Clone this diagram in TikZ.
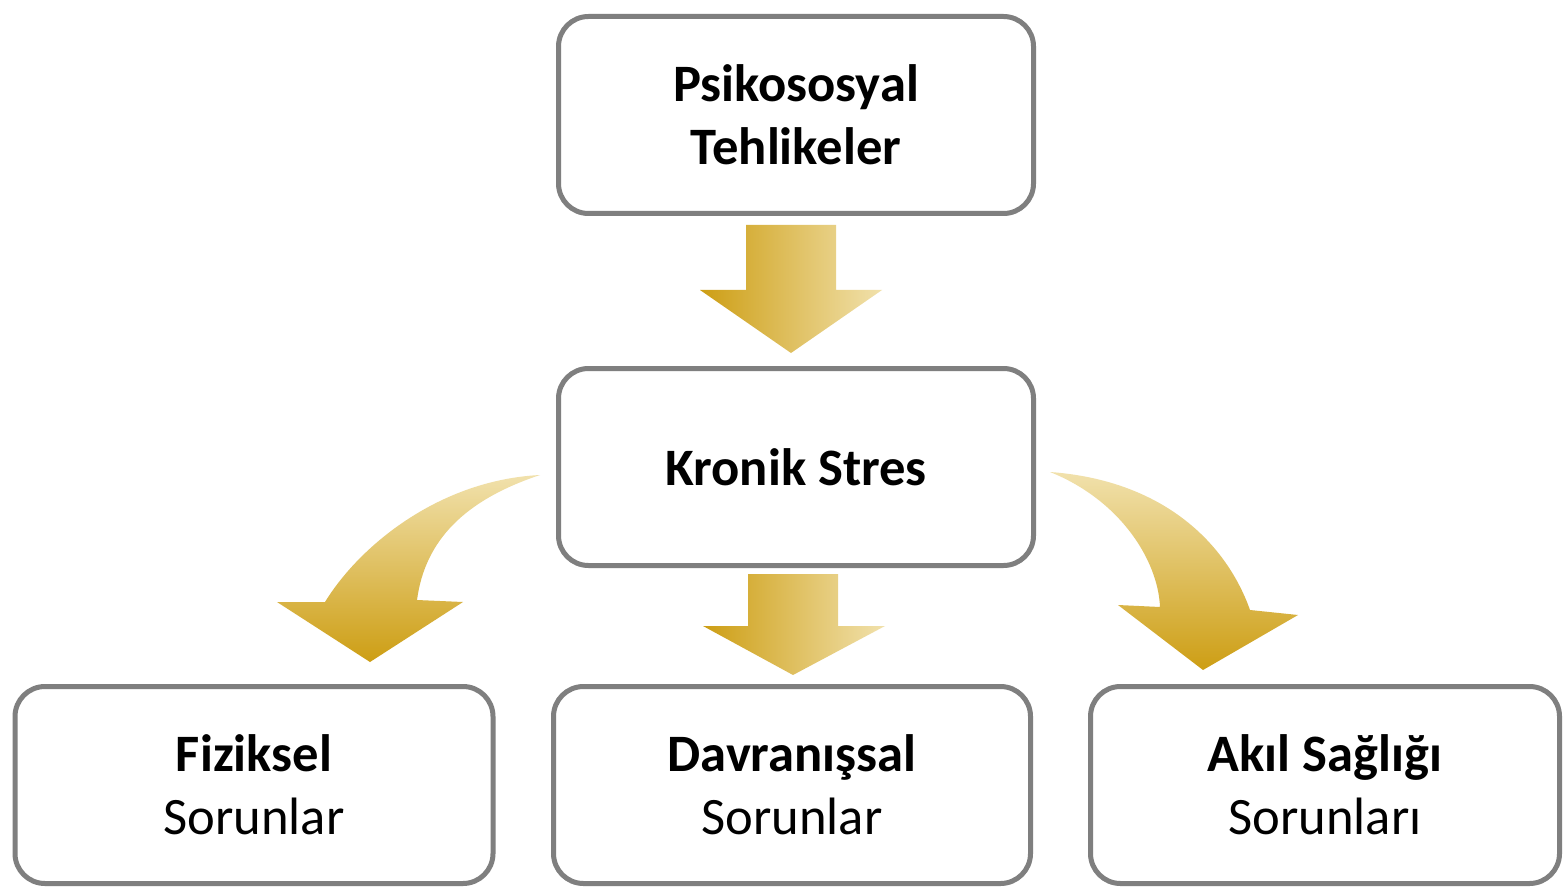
\documentclass[tikz,border=0pt]{standalone}
\usepackage{fontspec}
\setmainfont{Carlito}
\definecolor{boxgray}{RGB}{127,127,127}
\definecolor{golddark}{RGB}{205,158,20}
\definecolor{goldlight}{RGB}{241,225,172}
\begin{document}
\begin{tikzpicture}[x=0.5pt,y=-0.5pt,
  box/.style={draw=boxgray, line width=2.5pt, rounded corners=15pt, fill=white,
    align=center, inner sep=0pt, minimum width=237.5pt, minimum height=98.5pt,
    font=\fontsize{26.3}{31.5}\selectfont},
  hshade/.style={left color=golddark, right color=goldlight},
  vshade/.style={top color=goldlight, bottom color=golddark}]
\useasboundingbox (0,0) rectangle (1566,887);
\fill[white] (0,0) rectangle (1566,887);
% arrows
\shade[hshade] (746,225) -- (836,225) -- (836,290) -- (882,290) -- (791,353) -- (700,290) -- (746,290) -- cycle;
\shade[hshade] (748,574) -- (838,574) -- (838,626) -- (885,626) -- (793,675) -- (703,626) -- (748,626) -- cycle;
\shade[vshade] (540,475) .. controls (440,480) and (360,545) .. (325,602) -- (277,602) -- (370,662) -- (463,602) -- (417,600) .. controls (425,540) and (465,500) .. (540,475) -- cycle;
\shade[vshade] (1050,472) .. controls (1160,480) and (1225,540) .. (1250,610) -- (1298,615) -- (1203,670) -- (1118,605) -- (1160,607) .. controls (1158,560) and (1120,500) .. (1050,472) -- cycle;
% boxes
\node[box] (psy) at (796,115) {\textbf{Psikososyal}\\\textbf{Tehlikeler}};
\node[box] (kro) at (796,467) {\textbf{Kronik Stres}};
\node[box, minimum width=239pt] (fiz) at (254,785) {\textbf{Fiziksel}\\Sorunlar};
\node[box, minimum width=238.5pt] (dav) at (792,785) {\textbf{Davranışsal}\\Sorunlar};
\node[box, minimum width=234.5pt] (akl) at (1325,785) {\textbf{Akıl Sağlığı}\\Sorunları};
\end{tikzpicture}
\end{document}
